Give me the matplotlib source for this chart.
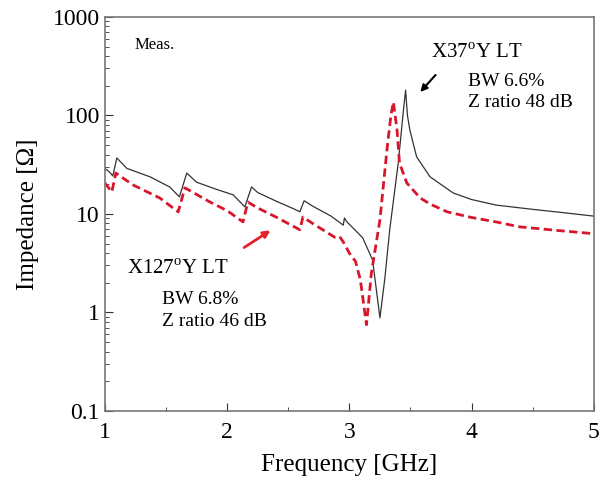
import numpy as np
import matplotlib
matplotlib.use('Agg')
import matplotlib.pyplot as plt
from matplotlib.ticker import MultipleLocator, LogLocator, FuncFormatter, NullFormatter

plt.rcParams['font.family'] = ['Liberation Serif', 'DejaVu Serif']
plt.rcParams['mathtext.fontset'] = 'custom'
plt.rcParams['mathtext.rm'] = 'Liberation Serif'

# X37°Y LT measured impedance (black)
freq_37 = [1.00, 1.04, 1.065, 1.098, 1.18, 1.37, 1.53, 1.61, 1.67, 1.75, 1.90, 2.05,
           2.145, 2.20, 2.25, 2.40, 2.55, 2.595, 2.63, 2.70, 2.85, 2.95, 2.96, 2.98, 3.05,
           3.11, 3.19, 3.25, 3.29, 3.33, 3.40, 3.44, 3.46, 3.475, 3.495, 3.55, 3.66, 3.85,
           4.00, 4.20, 4.48, 4.75, 5.00]
imp_37 = [29, 26.5, 24.3, 37, 29, 23.8, 18.8, 14.9, 26, 21, 18, 15.6,
          11.8, 18.8, 16.5, 13.5, 11.2, 10.5, 13.6, 12, 9.5, 7.7, 9.1, 8.3, 6.8,
          5.7, 3.4, 0.88, 2.2, 6.9, 33, 106, 181, 100, 71, 38, 23.8, 16.3,
          14.0, 12.3, 11.2, 10.3, 9.5]

# X127°Y LT measured impedance (red dashed)
freq_127 = [1.00, 1.03, 1.057, 1.09, 1.23, 1.45, 1.60, 1.655, 1.86, 2.00,
            2.13, 2.17, 2.25, 2.40, 2.595, 2.62, 2.70, 2.88, 2.92, 2.95, 3.00, 3.05,
            3.09, 3.14, 3.18, 3.25, 3.31, 3.34, 3.36, 3.39, 3.41, 3.47, 3.58, 3.66,
            3.80, 4.00, 4.20, 4.39, 4.70, 5.00]
imp_127 = [20.6, 18.5, 16.7, 26, 19.7, 14.5, 10.5, 18.4, 13.2, 10.8,
           8.3, 13.2, 11.5, 9.3, 6.9, 9.3, 8.0, 5.8, 5.9, 5.2, 4.0, 3.3,
           2.14, 0.75, 2.5, 8.7, 48, 100, 137, 71, 33, 20.6, 14.5, 12.6,
           10.5, 9.2, 8.3, 7.4, 6.8, 6.3]

fig = plt.figure(figsize=(6.06, 4.84), dpi=100)
ax = fig.add_axes([0.173, 0.151, 0.807, 0.814])

ax.plot(freq_37, imp_37, color='#333333', lw=0.9)
ax.plot(freq_127, imp_127, color='#d7152b', lw=2.0, linestyle=(0, (3, 1.6)))

ax.set_yscale('log')
ax.set_xlim(1, 5)
ax.set_ylim(0.1, 1000)
ax.xaxis.set_major_locator(MultipleLocator(1))
ax.xaxis.set_minor_locator(MultipleLocator(0.5))
ax.yaxis.set_major_locator(LogLocator(base=10, numticks=10))
ax.yaxis.set_minor_locator(LogLocator(base=10, subs=np.arange(2, 10), numticks=10))
ax.yaxis.set_major_formatter(FuncFormatter(lambda v, p: '%g' % v))
ax.yaxis.set_minor_formatter(NullFormatter())
ax.tick_params(which='both', direction='in', labelsize=17, color='#333333')
ax.tick_params(axis='x', pad=8)
ax.tick_params(which='major', length=6)
ax.tick_params(which='minor', length=3)
for sp in ax.spines.values():
    sp.set_color('#777777')
    sp.set_linewidth(1.2)

ax.set_xlabel('Frequency [GHz]', fontsize=18, labelpad=8)
ax.set_ylabel('Impedance [Ω]', fontsize=18, labelpad=10)

ax.text(1.245, 520, 'Meas.', fontsize=12, va='center')
ax.text(3.67, 431, 'X37$^{\\mathrm{o}}$Y LT', fontsize=15, va='center')
ax.text(3.97, 219, 'BW 6.6%', fontsize=14, va='center')
ax.text(3.97, 134, 'Z ratio 48 dB', fontsize=14, va='center')
ax.annotate('', xy=(3.565, 165), xytext=(3.72, 270),
            arrowprops=dict(arrowstyle='-|>', color='black', lw=1.5, mutation_scale=10))

ax.text(1.18, 2.77, 'X127$^{\\mathrm{o}}$Y LT', fontsize=15, va='center')
ax.text(1.466, 1.34, 'BW 6.8%', fontsize=14, va='center')
ax.text(1.466, 0.80, 'Z ratio 46 dB', fontsize=14, va='center')
ax.annotate('', xy=(2.374, 7.05), xytext=(2.12, 4.4),
            arrowprops=dict(arrowstyle='-|>', color='#e8202a', lw=2, mutation_scale=10))

fig.savefig('out.png', dpi=100)
